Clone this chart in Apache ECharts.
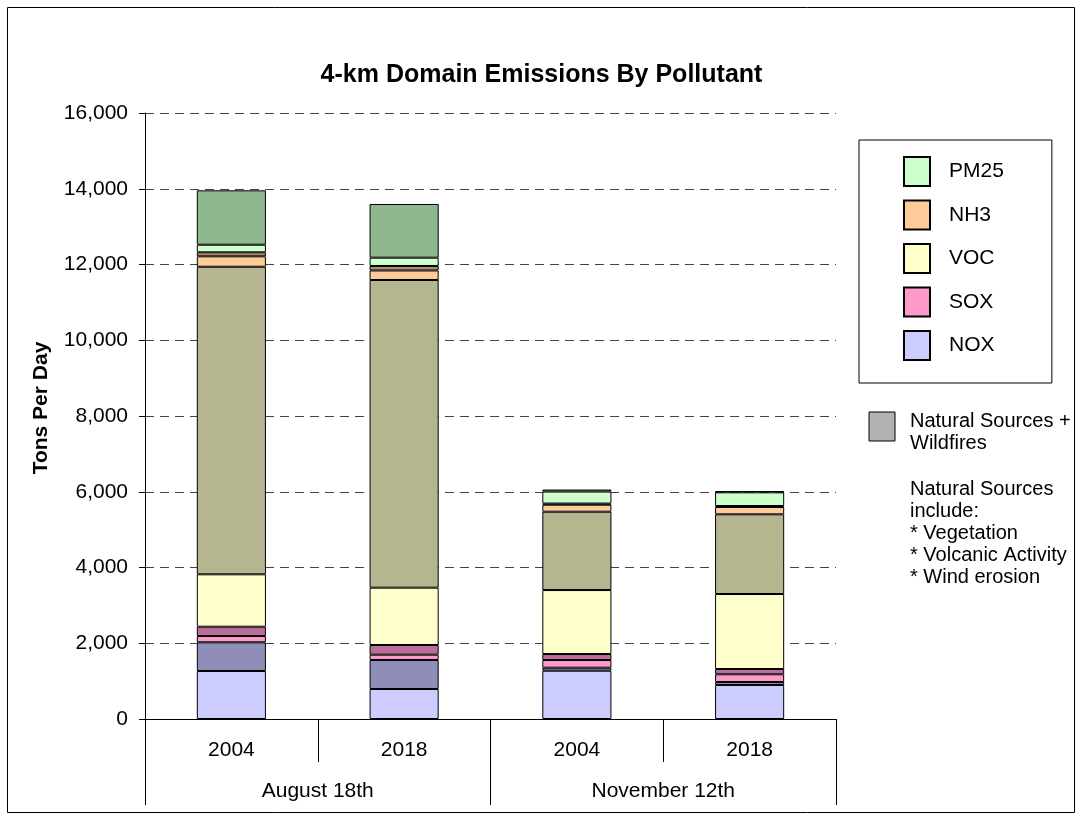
<!DOCTYPE html>
<html>
<head>
<meta charset="utf-8">
<script src="https://cdn.jsdelivr.net/npm/echarts@6/dist/echarts.min.js"></script>
<style>
html,body{margin:0;padding:0;background:#fff;}
#chart{width:1083px;height:821px;}
</style>
</head>
<body>
<div id="chart"></div>
<script>
// ---- data ----
var categories = ['2004', '2018', '2004', '2018'];
var groups = ['August 18th', 'November 12th'];
var yTicks = [0, 2000, 4000, 6000, 8000, 10000, 12000, 14000, 16000];
var noxAnthro   = [1267, 792, 1275, 898];
var noxNatural  = [758, 766, 79, 79];
var soxAnthro   = [166, 140, 203, 203];
var soxNatural  = [246, 256, 158, 140];
var vocAnthro   = [1383, 1513, 1690, 1980];
var vocNatural  = [8121, 8124, 2068, 2104];
var nh3Anthro   = [275, 251, 185, 193];
var nh3Natural  = [106, 119, 30, 26];
var pm25Anthro  = [200, 219, 317, 362];
var pm25Natural = [1436, 1418, 53, 35];
var legendNames = ['PM25', 'NH3', 'VOC', 'SOX', 'NOX'];
var naturalLabel = 'Natural Sources +\nWildfires';
var naturalNote = 'Natural Sources\ninclude:\n* Vegetation\n* Volcanic Activity\n* Wind erosion';

var FONT = '"Liberation Sans", Arial, sans-serif';

function bar(name, data, color) {
  return {
    name: name, type: 'bar', stack: 'total', data: data,
    barWidth: '40%',
    itemStyle: { color: color, borderColor: '#000', borderWidth: 1 },
    emphasis: { disabled: true }
  };
}

var series = [
  bar('NOX', noxAnthro, '#CCCCFF'),
  bar('NOX natural', noxNatural, '#8E8EB8'),
  bar('SOX', soxAnthro, '#FF99CC'),
  bar('SOX natural', soxNatural, '#B86E96'),
  bar('VOC', vocAnthro, '#FFFFCC'),
  bar('VOC natural', vocNatural, '#B5B590'),
  bar('NH3', nh3Anthro, '#FFCC99'),
  bar('NH3 natural', nh3Natural, '#AE8E70'),
  bar('PM25', pm25Anthro, '#CCFFCC'),
  bar('PM25 natural', pm25Natural, '#8FB88F')
];

var chart = echarts.init(document.getElementById('chart'), null, { renderer: 'canvas' });
chart.setOption({
  animation: false,
  backgroundColor: '#fff',
  textStyle: { fontFamily: FONT, color: '#000' },
  title: {
    text: '4-km Domain Emissions By Pollutant',
    left: 'center', top: 58,
    textStyle: { fontFamily: FONT, fontSize: 25, fontWeight: 'bold', color: '#000' }
  },
  grid: { left: 145, right: 247, top: 113, bottom: 102, containLabel: false },
  legend: {
    data: legendNames,
    orient: 'vertical',
    left: 859, top: 140,
    itemWidth: 26, itemHeight: 29, itemGap: 12.5,
    icon: 'rect',
    padding: [16, 48, 22, 44],
    borderColor: '#000', borderWidth: 1, backgroundColor: '#fff',
    selectedMode: false,
    textStyle: { fontFamily: FONT, fontSize: 21, color: '#000', padding: [0, 0, 0, 14] }
  },
  xAxis: [
    {
      type: 'category', data: categories, position: 'bottom',
      axisLine: { show: true, lineStyle: { color: '#000', width: 1 } },
      axisTick: { show: true, length: 43, lineStyle: { color: '#000' } },
      axisLabel: { fontFamily: FONT, fontSize: 21, color: '#000', margin: 21 }
    },
    {
      type: 'category', data: groups, position: 'bottom',
      axisLine: { show: false },
      axisTick: { show: true, length: 86, lineStyle: { color: '#000' } },
      axisLabel: { fontFamily: FONT, fontSize: 21, color: '#000', margin: 62 }
    }
  ],
  yAxis: {
    type: 'value', min: yTicks[0], max: yTicks[yTicks.length - 1], interval: 2000,
    axisLine: { show: true, lineStyle: { color: '#000', width: 1 } },
    axisTick: { show: true, length: 6, inside: false, lineStyle: { color: '#000' } },
    axisLabel: {
      fontFamily: FONT, fontSize: 21, color: '#000', margin: 17,
      formatter: function (v) { return v.toLocaleString('en-US'); }
    },
    splitLine: { show: true, lineStyle: { color: '#444', type: [9, 6], width: 1 } }
  },
  graphic: [
    { type: 'rect', shape: { x: 7.5, y: 7.5, width: 1067, height: 805 },
      style: { fill: null, stroke: '#000', lineWidth: 1 }, silent: true, z: -1 },
    { type: 'text', x: 41, y: 408, rotation: Math.PI / 2,
      style: { text: 'Tons Per Day', font: 'bold 21px ' + FONT, fill: '#000',
               align: 'center', verticalAlign: 'middle' } },
    { type: 'rect', shape: { x: 869, y: 412, width: 26, height: 29 },
      style: { fill: '#B2B2B2', stroke: '#000', lineWidth: 1 }, silent: true },
    { type: 'text', left: 910, top: 410,
      style: { text: naturalLabel, font: '20px ' + FONT, fill: '#000', lineHeight: 22 } },
    { type: 'text', left: 910, top: 478,
      style: { text: naturalNote, font: '20px ' + FONT, fill: '#000', lineHeight: 22 } }
  ],
  series: series
});
</script>
</body>
</html>
